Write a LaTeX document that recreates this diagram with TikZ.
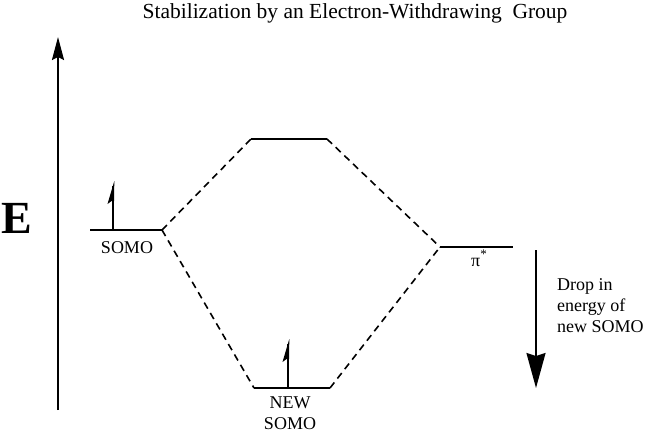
\documentclass[tikz,border=0pt]{standalone}
\usepackage{fontspec}
\setmainfont{Liberation Serif}
\usetikzlibrary{arrows.meta}
\begin{document}
\begin{tikzpicture}[x=1pt,y=-1pt,
  level/.style={line width=2.2pt},
  conn/.style={line width=1.6pt,dash pattern=on 7pt off 5pt},
  lbl/.style={font=\fontsize{18}{21}\selectfont,inner sep=0pt},
  spin/.pic={\draw[line width=2.2pt] (0,0) -- (0,-44);
             \fill (1.3,-49) -- (-5.5,-26) -- (-1.5,-29) -- (1.1,-29) -- cycle;}]
\useasboundingbox (0,0) rectangle (650,440);
% title
\node[font=\fontsize{21.5}{24}\selectfont,inner sep=0pt,anchor=base] (title) at (355,18) {Stabilization by an Electron-Withdrawing\ \ Group};
% energy axis
\coordinate (axB) at (58,410);
\coordinate (axT) at (58,37);
\draw[line width=2pt,-{Stealth[length=23pt,width=12pt,inset=3pt]}] (axB) -- (axT);
\node[font=\fontsize{46}{46}\selectfont\bfseries,inner sep=0pt,anchor=base] (E) at (17,233) {E};
% levels
\coordinate (somoL) at (90,230);  \coordinate (somoR) at (162,230);
\coordinate (topL) at (251,139);  \coordinate (topR) at (327,139);
\coordinate (botL) at (254,388);  \coordinate (botR) at (330,388);
\coordinate (piL) at (440,247);   \coordinate (piR) at (513,247);
\draw[level] (somoL) -- (somoR);
\draw[level] (topL) -- (topR);
\draw[level] (botL) -- (botR);
\draw[level] (piL) -- (piR);
\draw[conn] (somoR) -- (topL);
\draw[conn] (somoR) -- (botL);
\draw[conn] (topR) -- (piL);
\draw[conn] (botR) -- (piL);
% electrons
\pic at (113,230) {spin};
\pic at (288,388) {spin};
% labels
\node[lbl,anchor=base] (somo) at (127,253) {SOMO};
\node[lbl,anchor=north,align=center] (newsomo) at (290,397) {NEW\\SOMO};
\node[lbl,anchor=base] (pistar) at (479,266) {π\raisebox{0.4em}{\fontsize{13}{13}\selectfont *}};
% drop arrow
\coordinate (dropT) at (536,250);
\coordinate (dropB) at (536,388);
\draw[line width=2pt,-{Stealth[length=35pt,width=19pt,inset=3pt]}] (dropT) -- (dropB);
\node[lbl,anchor=north west,align=left] (drop) at (557,278) {Drop in\\energy of\\new SOMO};
\end{tikzpicture}
\end{document}
